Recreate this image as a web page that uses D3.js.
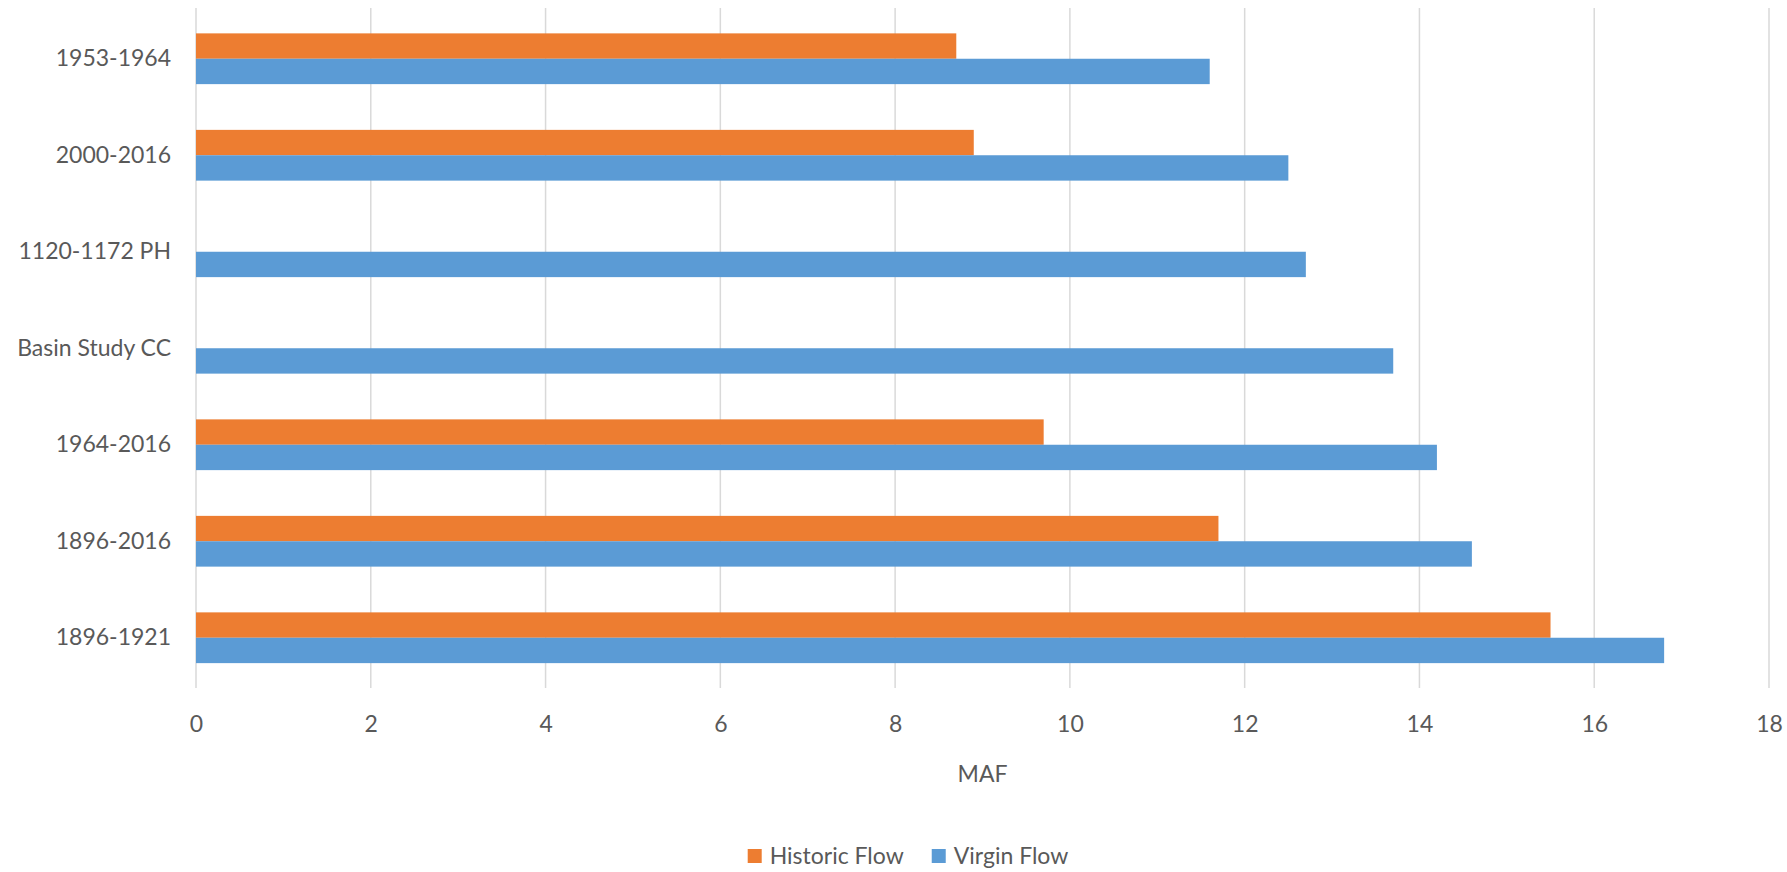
<!DOCTYPE html>
<html>
<head>
<meta charset="utf-8">
<script src="https://cdn.jsdelivr.net/npm/d3@7"></script>
<style>
  html, body { margin: 0; padding: 0; background: #fff; }
  svg text { font-family: Lato, "Open Sans", sans-serif; fill: #595959; }
</style>
</head>
<body>
<svg id="chart" width="1787" height="872"></svg>
<script>
const categories = ["1953-1964", "2000-2016", "1120-1172 PH", "Basin Study CC", "1964-2016", "1896-2016", "1896-1921"];
const historicFlow = [8.7, 8.9, null, null, 9.7, 11.7, 15.5];
const virginFlow = [11.6, 12.5, 12.7, 13.7, 14.2, 14.6, 16.8];
const seriesNames = ["Historic Flow", "Virgin Flow"];
const seriesColors = ["#ED7D31", "#5B9BD5"];
const xTicks = [0, 2, 4, 6, 8, 10, 12, 14, 16, 18];
const xTitle = "MAF";

(function () {
const svg = d3.select("#chart");
const mLeft = 196, mRight = 1769, mTop = 8, mBottom = 688;
const fontSize = 23;

const x = d3.scaleLinear().domain([0, 18]).range([mLeft, mRight]);
const y = d3.scaleBand().domain(categories).range([mTop + 2.5, mBottom - 2]).paddingInner(0.474).paddingOuter(0.237);
const ySub = d3.scaleBand().domain(seriesNames).range([0, y.bandwidth()]);

// gridlines
svg.append("g").selectAll("line").data(xTicks).join("line")
  .attr("x1", d => x(d)).attr("x2", d => x(d))
  .attr("y1", mTop).attr("y2", mBottom)
  .attr("stroke", "#D9D9D9").attr("stroke-width", 1.5);

// bars
const series = [historicFlow, virginFlow];
series.forEach((vals, si) => {
  svg.append("g").selectAll("rect")
    .data(categories.map((c, i) => ({ c, v: vals[i] })).filter(d => d.v != null))
    .join("rect")
    .attr("x", x(0))
    .attr("y", d => y(d.c) + ySub(seriesNames[si]))
    .attr("width", d => x(d.v) - x(0))
    .attr("height", ySub.bandwidth())
    .attr("fill", seriesColors[si]);
});

// x axis tick labels
const xAxis = d3.axisBottom(x).tickValues(xTicks).tickSize(0).tickPadding(0).tickFormat(d3.format("d"));
const gx = svg.append("g").attr("transform", `translate(0,${mBottom})`).call(xAxis);
gx.select(".domain").remove();
gx.selectAll("text").attr("y", 36).attr("dy", "0.35em")
  .style("font-size", fontSize + "px").attr("fill", "#595959")
  .style("font-family", "Lato, 'Open Sans', sans-serif");

// y axis category labels
const yAxis = d3.axisLeft(y).tickSize(0).tickPadding(25);
const gy = svg.append("g").attr("transform", `translate(${mLeft},0)`).call(yAxis);
gy.select(".domain").remove();
gy.selectAll("text").style("font-size", fontSize + "px").attr("fill", "#595959")
  .style("font-family", "Lato, 'Open Sans', sans-serif");

// axis title
svg.append("text").attr("x", (mLeft + mRight) / 2).attr("y", 774)
  .attr("text-anchor", "middle").attr("dy", "0.35em")
  .style("font-size", fontSize + "px").text(xTitle);

// legend
const legendY = 856;
const lg = svg.append("g");
const items = lg.selectAll("g").data(seriesNames).join("g");
items.append("rect").attr("width", 14).attr("height", 14).attr("y", legendY - 7)
  .attr("fill", (d, i) => seriesColors[i]);
items.append("text").attr("x", 22).attr("y", legendY)
  .attr("dy", "0.35em").style("font-size", fontSize + "px").text(d => d);
const gap = 28;
const widths = items.nodes().map(n => n.getBBox().width);
const total = d3.sum(widths) + gap * (widths.length - 1);
let cx = 908 - total / 2;
items.attr("transform", (d, i) => {
  const t = `translate(${cx},0)`;
  cx += widths[i] + gap;
  return t;
});
})();
</script>
</body>
</html>
